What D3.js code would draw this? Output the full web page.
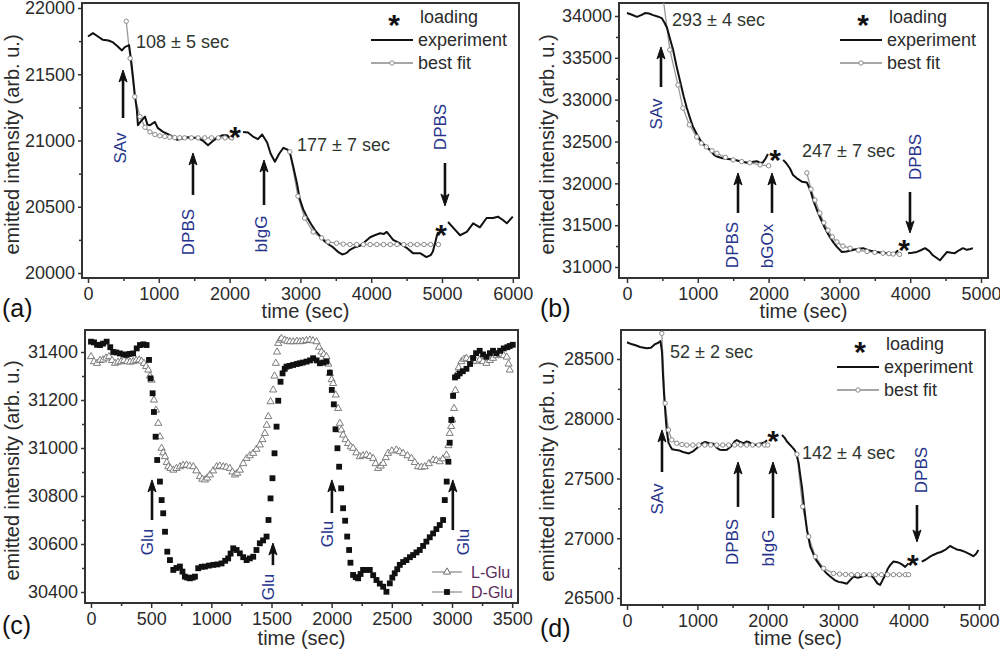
<!DOCTYPE html>
<html>
<head>
<meta charset="utf-8">
<script src="https://cdn.jsdelivr.net/npm/d3@7"></script>
<style>
  body { margin: 0; background: #fff; }
  svg { display: block; font-family: "Liberation Sans", Arial, sans-serif; }
</style>
</head>
<body>
<svg id="fig" width="1000" height="651"></svg>
<script>
// ---- panel (a): SAv then bIgG ----
const aExp1 = [[0,21785],[70,21810],[140,21785],[210,21760],[290,21755],[355,21740],[420,21710],[480,21680],[520,21705],[580,21720],[610,21600],[635,21480],[660,21350],[690,21230],[705,21115],[740,21140],[805,21180],[840,21120],[875,21115],[945,21140],[985,21095],[1060,21065],[1160,21040],[1260,21005],[1330,21015],[1400,21025],[1470,21020],[1540,21020],[1620,21000],[1695,20965],[1760,20995],[1825,21020],[1900,21040],[1965,21040],[2010,21015],[2050,21010]];
const aExp2 = [[2190,21065],[2260,21060],[2330,21030],[2400,21010],[2460,21045],[2530,20985],[2580,20900],[2640,20840],[2700,20900],[2760,20945],[2820,20930],[2860,20890],[2900,20800],[2950,20680],[2990,20560],[3040,20480],[3090,20425],[3150,20370],[3210,20320],[3275,20280],[3340,20240],[3400,20215],[3460,20195],[3530,20160],[3590,20140],[3650,20150],[3700,20175],[3770,20195],[3840,20205],[3900,20230],[3985,20270],[4050,20285],[4125,20300],[4180,20295],[4220,20310],[4310,20250],[4400,20225],[4500,20190],[4590,20150],[4690,20150],[4780,20120],[4840,20135],[4870,20160],[4900,20220],[4925,20275],[4945,20310]];
const aExp3 = [[5085,20385],[5160,20340],[5255,20285],[5350,20310],[5440,20375],[5535,20345],[5630,20415],[5720,20415],[5790,20425],[5860,20400],[5915,20375],[6000,20425]];
const aFit1 = [[540,21900],[595,21620],[660,21330],[735,21180],[805,21100],[875,21065],[945,21045],[1015,21035],[1085,21030],[1155,21025],[1225,21022],[1295,21021],[1365,21020],[1460,21020],[1555,21020],[1650,21020],[1745,21020],[1840,21020],[1935,21020],[2030,21020]];
const aFit2 = [[2850,20915],[2965,20580],[3060,20415],[3180,20310],[3300,20265],[3390,20235],[3510,20225],[3605,20218],[3700,20215],[3795,20215],[3890,20215],[3985,20215],[4080,20215],[4175,20215],[4270,20215],[4365,20215],[4460,20215],[4555,20215],[4650,20215],[4745,20215],[4840,20215],[4950,20215]];
const aXTicks = [0,1000,2000,3000,4000,5000,6000];
const aXMinor = [500,1500,2500,3500,4500,5500];
const aYTicks = [20000,20500,21000,21500,22000];
const aYMinor = [20250,20750,21250,21750];

// ---- panel (b): SAv then bGOx ----
const bExp1 = [[0,34035],[70,34015],[140,33990],[200,34010],[255,34035],[310,34030],[370,34010],[430,33995],[490,33975],[530,33920],[565,33860],[610,33720],[650,33600],[700,33400],[750,33220],[800,33040],[845,32900],[890,32780],[930,32680],[985,32590],[1040,32510],[1100,32450],[1170,32400],[1230,32340],[1270,32320],[1350,32300],[1420,32290],[1500,32285],[1600,32265],[1695,32245],[1760,32255],[1835,32265],[1880,32245],[1920,32250],[1960,32300],[1990,32350]];
const bExp2 = [[2205,32280],[2250,32240],[2300,32180],[2345,32100],[2400,32060],[2470,32020],[2540,32010],[2590,31920],[2630,31800],[2665,31720],[2700,31645],[2750,31550],[2795,31465],[2830,31410],[2865,31360],[2910,31300],[2965,31240],[3035,31180],[3100,31185],[3175,31200],[3250,31215],[3335,31225],[3400,31205],[3460,31190],[3530,31180],[3600,31170],[3670,31165],[3740,31165],[3785,31165],[3830,31200]];
const bExp3 = [[3970,31165],[4030,31170],[4095,31180],[4150,31200],[4210,31225],[4270,31190],[4320,31140],[4370,31110],[4420,31080],[4470,31130],[4520,31180],[4580,31170],[4630,31165],[4690,31200],[4745,31225],[4800,31205],[4850,31215],[4885,31225]];
const bFit1 = [[505,34250],[605,33595],[720,33175],[790,32900],[880,32700],[985,32555],[1050,32480],[1120,32435],[1200,32390],[1270,32360],[1390,32310],[1500,32280],[1620,32260],[1735,32245],[1880,32220],[2000,32210]];
const bFit2 = [[2540,32125],[2600,31930],[2655,31800],[2725,31645],[2780,31530],[2840,31440],[2900,31360],[2965,31300],[3050,31250],[3150,31225],[3270,31200],[3390,31185],[3500,31175],[3615,31165],[3700,31160],[3760,31155],[3850,31150]];
const bXTicks = [0,1000,2000,3000,4000,5000];
const bXMinor = [500,1500,2500,3500,4500];
const bYTicks = [31000,31500,32000,32500,33000,33500,34000];
const bYMinor = [31250,31750,32250,32750,33250,33750];

// ---- panel (c): L-Glu / D-Glu ----
const cLGlu = [[0,31381],[25,31360],[50,31353],[75,31365],[100,31367],[125,31375],[150,31381],[175,31365],[200,31353],[225,31358],[250,31360],[275,31365],[300,31360],[325,31358],[350,31360],[375,31365],[400,31367],[420,31362],[440,31353],[458,31340],[476,31325],[490,31300],[504,31283],[523,31200],[540,31158],[559,31103],[573,31047],[587,30999],[600,30980],[615,30964],[630,30940],[642,30922],[660,30915],[684,30908],[710,30915],[739,30922],[765,30928],[794,30929],[820,30925],[850,30922],[875,30905],[905,30881],[925,30870],[947,30867],[965,30875],[988,30888],[1015,30905],[1044,30922],[1070,30925],[1099,30922],[1125,30920],[1154,30915],[1175,30900],[1196,30888],[1215,30895],[1237,30908],[1265,30935],[1293,30957],[1320,30968],[1348,30978],[1375,30995],[1403,31013],[1425,31035],[1445,31061],[1460,31095],[1473,31131],[1492,31193],[1514,31242],[1525,31300],[1536,31353],[1546,31400],[1556,31436],[1570,31450],[1583,31457],[1610,31450],[1630,31445],[1653,31443],[1680,31443],[1710,31445],[1735,31443],[1760,31445],[1790,31448],[1819,31450],[1845,31447],[1874,31443],[1895,31420],[1915,31400],[1935,31390],[1957,31381],[1972,31350],[1985,31311],[2000,31285],[2012,31269],[2034,31221],[2054,31165],[2068,31103],[2080,31075],[2095,31054],[2115,31035],[2137,31019],[2158,31005],[2178,30999],[2205,30980],[2234,30964],[2260,30968],[2289,30971],[2318,30965],[2345,30957],[2365,30935],[2386,30915],[2408,30925],[2428,30936],[2450,30960],[2469,30978],[2500,30988],[2538,30992],[2565,30985],[2594,30978],[2630,30968],[2663,30957],[2690,30940],[2718,30922],[2745,30920],[2773,30922],[2808,30935],[2843,30950],[2870,30948],[2898,30943],[2925,30955],[2954,30971],[2970,31010],[2981,31061],[2993,31090],[3003,31117],[3017,31165],[3028,31240],[3036,31304],[3055,31335],[3078,31360],[3100,31370],[3120,31374],[3150,31368],[3175,31360],[3200,31362],[3230,31367],[3258,31360],[3286,31353],[3315,31365],[3341,31374],[3370,31385],[3400,31390],[3430,31385],[3455,31379],[3470,31350],[3480,31325]];
const cDGlu = [[0,31443],[25,31440],[50,31430],[75,31429],[100,31435],[130,31443],[160,31420],[185,31400],[210,31398],[240,31394],[270,31390],[296,31388],[320,31392],[350,31394],[380,31415],[407,31429],[435,31432],[462,31429],[482,31367],[495,31290],[512,31228],[523,31150],[537,31047],[550,30950],[573,30860],[587,30783],[600,30728],[615,30651],[634,30568],[656,30533],[684,30492],[710,30500],[739,30506],[760,30485],[780,30464],[800,30460],[822,30457],[845,30460],[864,30464],[891,30499],[920,30505],[947,30506],[980,30510],[1016,30513],[1050,30515],[1085,30519],[1115,30530],[1140,30540],[1160,30560],[1182,30582],[1210,30575],[1237,30561],[1265,30545],[1293,30533],[1320,30540],[1348,30547],[1375,30575],[1403,30603],[1430,30615],[1459,30631],[1475,30700],[1492,30790],[1508,30874],[1525,30978],[1542,31089],[1556,31197],[1575,31276],[1592,31311],[1610,31330],[1625,31339],[1650,31342],[1680,31346],[1710,31350],[1735,31353],[1760,31356],[1791,31360],[1820,31365],[1846,31374],[1875,31365],[1902,31353],[1930,31356],[1957,31360],[1985,31314],[2001,31242],[2018,31182],[2032,31078],[2048,30999],[2062,30922],[2079,30832],[2095,30749],[2112,30697],[2129,30631],[2145,30575],[2156,30522],[2178,30471],[2200,30462],[2220,30457],[2240,30475],[2261,30492],[2290,30492],[2317,30492],[2345,30470],[2372,30450],[2400,30435],[2428,30422],[2455,30401],[2483,30436],[2504,30460],[2524,30478],[2545,30495],[2566,30513],[2594,30525],[2621,30533],[2650,30545],[2677,30554],[2705,30565],[2732,30575],[2760,30592],[2787,30610],[2815,30628],[2843,30644],[2870,30662],[2898,30679],[2926,30700],[2940,30783],[2956,30860],[2970,30943],[2981,31022],[2995,31117],[3009,31217],[3025,31294],[3045,31300],[3064,31311],[3090,31320],[3120,31330],[3150,31350],[3175,31375],[3200,31395],[3230,31405],[3258,31390],[3286,31380],[3315,31395],[3341,31405],[3370,31395],[3400,31405],[3430,31415],[3460,31420],[3480,31425],[3505,31430]];
const cXTicks = [0,500,1000,1500,2000,2500,3000,3500];
const cXMinor = [250,750,1250,1750,2250,2750,3250];
const cYTicks = [30400,30600,30800,31000,31200,31400];
const cYMinor = [30500,30700,30900,31100,31300];

// ---- panel (d): SAv then bIgG ----
const dExp1 = [[0,28640],[60,28625],[120,28615],[187,28600],[240,28595],[282,28590],[340,28595],[400,28625],[440,28634],[475,28650],[497,28560],[511,28366],[527,28200],[540,28090],[556,27960],[568,27890],[589,27800],[611,27775],[640,27745],[682,27740],[740,27735],[795,27722],[880,27710],[944,27730],[994,27755],[1050,27790],[1108,27806],[1170,27795],[1230,27790],[1280,27755],[1320,27740],[1370,27738],[1420,27740],[1480,27770],[1530,27810],[1562,27822],[1610,27805],[1655,27795],[1700,27810],[1727,27806],[1770,27790],[1818,27780],[1870,27790],[1918,27795],[1960,27805],[1989,27820]];
const dExp2 = [[2201,27864],[2240,27840],[2272,27810],[2343,27765],[2380,27740],[2405,27710],[2438,27630],[2460,27530],[2485,27430],[2518,27250],[2556,27070],[2603,26930],[2640,26880],[2674,26830],[2720,26790],[2769,26750],[2830,26710],[2887,26680],[2950,26650],[3005,26635],[3060,26630],[3124,26620],[3170,26650],[3218,26680],[3280,26670],[3336,26680],[3400,26690],[3454,26690],[3500,26670],[3525,26650],[3560,26620],[3596,26610],[3630,26650],[3667,26690],[3700,26740],[3738,26775],[3785,26805],[3840,26800],[3880,26790],[3920,26775],[3951,26760],[3998,26790]];
const dExp3 = [[4187,26804],[4240,26820],[4305,26846],[4350,26860],[4400,26874],[4460,26885],[4518,26902],[4589,26935],[4640,26920],[4684,26906],[4740,26900],[4802,26886],[4860,26870],[4920,26850],[4960,26870],[4991,26902]];
const dFit1 = [[494,28715],[541,28130],[589,27906],[636,27823],[707,27795],[780,27785],[850,27780],[935,27780],[1020,27780],[1105,27780],[1190,27780],[1275,27780],[1360,27780],[1445,27780],[1530,27780],[1615,27780],[1700,27780],[1785,27780],[1870,27780],[1955,27780],[2000,27780]];
const dFit2 = [[2414,27703],[2494,27265],[2580,27014],[2674,26846],[2792,26748],[2934,26706],[3020,26700],[3105,26697],[3190,26695],[3275,26695],[3360,26695],[3445,26695],[3530,26695],[3615,26695],[3700,26695],[3785,26695],[3870,26695],[3955,26695],[4000,26695]];
const dXTicks = [0,1000,2000,3000,4000,5000];
const dXMinor = [500,1500,2500,3500,4500];
const dYTicks = [26500,27000,27500,28000,28500];
const dYMinor = [26750,27250,27750,28250];

const LABEL_COLOR = '#27348b';
const TEXT_COLOR = '#2b2b2b';

const svg = d3.select('#fig');

function drawPanel(p) {
  const g = svg.append('g');
  const f = p.frame;
  const x = p.x, y = p.y;

  svg.append('clipPath').attr('id', 'clip-' + p.name)
    .append('rect')
    .attr('x', f.l).attr('y', f.t)
    .attr('width', f.r - f.l).attr('height', f.b - f.t);

  const styleAxis = sel => {
    sel.select('.domain').remove();
    sel.attr('font-family', null).attr('font-size', 18);
    sel.selectAll('line').attr('stroke', '#333').attr('stroke-width', 1.5);
    sel.selectAll('text').attr('fill', TEXT_COLOR);
  };
  // minor ticks, then major ticks with labels
  g.append('g').attr('transform', `translate(0,${f.b})`)
    .call(d3.axisBottom(x).tickValues(p.xMinor).tickSize(3).tickFormat(''))
    .call(styleAxis);
  g.append('g').attr('transform', `translate(0,${f.b})`)
    .call(d3.axisBottom(x).tickValues(p.xTicks).tickSize(5).tickPadding(4).tickFormat(d3.format('d')))
    .call(styleAxis);
  g.append('g').attr('transform', `translate(${f.l},0)`)
    .call(d3.axisLeft(y).tickValues(p.yMinor).tickSize(3).tickFormat(''))
    .call(styleAxis);
  g.append('g').attr('transform', `translate(${f.l},0)`)
    .call(d3.axisLeft(y).tickValues(p.yTicks).tickSize(4).tickPadding(3).tickFormat(d3.format('d')))
    .call(styleAxis);

  // frame
  g.append('rect')
    .attr('x', f.l).attr('y', f.t)
    .attr('width', f.r - f.l).attr('height', f.b - f.t)
    .attr('fill', 'none').attr('stroke', '#333').attr('stroke-width', 2);

  // axis titles
  g.append('text')
    .attr('x', (f.l + f.r) / 2 + p.xTitleShift).attr('y', p.xTitleY)
    .attr('text-anchor', 'middle').attr('font-size', 20).attr('fill', TEXT_COLOR)
    .text('time (sec)');
  g.append('text')
    .attr('transform', `translate(${p.yTitleX},${(f.t + f.b) / 2 + 4}) rotate(-90)`)
    .attr('text-anchor', 'middle').attr('dy', '0.35em')
    .attr('font-size', 20).attr('fill', TEXT_COLOR)
    .text('emitted intensity (arb. u.)');

  // panel letter
  g.append('text')
    .attr('x', p.letterPos[0]).attr('y', p.letterPos[1])
    .attr('font-size', 25).attr('fill', '#111')
    .text(p.letter);

  return {g, clip: `url(#clip-${p.name})`};
}

function drawTrace(g, clip, x, y, exps, fits) {
  const line = d3.line().x(d => x(d[0])).y(d => y(d[1]));
  const plot = g.append('g').attr('clip-path', clip);
  fits.forEach(s => plot.append('path').datum(s).attr('d', line)
    .attr('fill', 'none').attr('stroke', '#9a9a9a').attr('stroke-width', 1.3));
  exps.forEach(s => plot.append('path').datum(s).attr('d', line)
    .attr('fill', 'none').attr('stroke', '#111').attr('stroke-width', 2)
    .attr('stroke-linejoin', 'round'));
  fits.forEach(s => plot.append('g').selectAll('circle').data(s).join('circle')
    .attr('cx', d => x(d[0])).attr('cy', d => y(d[1])).attr('r', 2.2)
    .attr('fill', '#fff').attr('stroke', '#8a8a8a').attr('stroke-width', 1));
}

function drawArrow(g, x, y, t, vTail, vHead) {
  const px = x(t), y0 = y(vTail), y1 = y(vHead);
  const dir = y1 < y0 ? -1 : 1;
  g.append('line')
    .attr('x1', px).attr('x2', px).attr('y1', y0).attr('y2', y1 - dir * 8)
    .attr('stroke', '#111').attr('stroke-width', 2.6);
  g.append('path')
    .attr('d', `M${px},${y1} L${px - 4},${y1 - dir * 12} L${px},${y1 - dir * 9} L${px + 4},${y1 - dir * 12} Z`)
    .attr('fill', '#111').attr('stroke', '#111').attr('stroke-width', 1);
}

function drawRotLabel(g, x, y, t, v, txt) {
  g.append('text')
    .attr('transform', `translate(${x(t)},${y(v)}) rotate(-90)`)
    .attr('text-anchor', 'middle').attr('dy', '0.35em')
    .attr('font-size', 17).attr('fill', LABEL_COLOR)
    .text(txt);
}

function drawStar(g, px, py) {
  g.append('text')
    .attr('x', px).attr('y', py).attr('dy', '0.56em')
    .attr('text-anchor', 'middle').attr('font-size', 30).attr('font-weight', 'bold')
    .attr('fill', '#111').text('*');
}

function drawNote(g, x, y, t, v, txt) {
  g.append('text')
    .attr('x', x(t)).attr('y', y(v))
    .attr('font-size', 18).attr('fill', '#2f362f')
    .text(txt);
}

function drawFitLegend(g, f) {
  const R = f.r, T = f.t;
  drawStar(g, R - 125, T + 15);
  g.append('text').attr('x', R - 99).attr('y', T + 20).attr('font-size', 18).attr('fill', TEXT_COLOR).text('loading');
  g.append('line').attr('x1', R - 148).attr('x2', R - 106).attr('y1', T + 37).attr('y2', T + 37)
    .attr('stroke', '#111').attr('stroke-width', 2);
  g.append('text').attr('x', R - 101).attr('y', T + 43).attr('font-size', 18).attr('fill', TEXT_COLOR).text('experiment');
  g.append('line').attr('x1', R - 148).attr('x2', R - 106).attr('y1', T + 60).attr('y2', T + 60)
    .attr('stroke', '#8a8a8a').attr('stroke-width', 1.5);
  g.append('circle').attr('cx', R - 127).attr('cy', T + 60).attr('r', 2.2)
    .attr('fill', '#fff').attr('stroke', '#8a8a8a');
  g.append('text').attr('x', R - 101).attr('y', T + 66).attr('font-size', 18).attr('fill', TEXT_COLOR).text('best fit');
}

// ---------- (a) ----------
{
  const x = d3.scaleLinear().domain([0, 5000]).range([88, 442]);
  const y = d3.scaleLinear().domain([20000, 22000]).range([273, 8]);
  const frame = {l: 82, r: 519, t: 3, b: 278};
  const {g, clip} = drawPanel({name: 'a', frame, x, y, xTicks: aXTicks, xMinor: aXMinor, yTicks: aYTicks, yMinor: aYMinor,
    xTitleY: 318, xTitleShift: 5, yTitleX: 12, letter: '(a)', letterPos: [2, 317]});
  drawTrace(g, clip, x, y, [aExp1, aExp2, aExp3], [aFit1, aFit2]);
  drawNote(g, x, y, 678, 21698, '108 \u00b1 5 sec');
  drawNote(g, x, y, 2952, 20921, '177 \u00b1 7 sec');
  drawArrow(g, x, y, 495, 21170, 21532);
  drawArrow(g, x, y, 1483, 20589, 20906);
  drawArrow(g, x, y, 2486, 20513, 20853);
  drawArrow(g, x, y, 5042, 20830, 20506);
  drawRotLabel(g, x, y, 452, 20943, 'SAv');
  drawRotLabel(g, x, y, 1412, 20309, 'DPBS');
  drawRotLabel(g, x, y, 2443, 20294, 'bIgG');
  drawRotLabel(g, x, y, 4972, 21102, 'DPBS');
  drawStar(g, x(2076), y(21079));
  drawStar(g, x(4986), y(20340));
  drawFitLegend(g, frame);
}

// ---------- (b) ----------
{
  const x = d3.scaleLinear().domain([0, 5000]).range([627, 981]);
  const y = d3.scaleLinear().domain([31000, 34000]).range([267, 16]);
  const frame = {l: 619, r: 988, t: 3, b: 278};
  const {g, clip} = drawPanel({name: 'b', frame, x, y, xTicks: bXTicks, xMinor: bXMinor, yTicks: bYTicks, yMinor: bYMinor,
    xTitleY: 318, xTitleShift: 0, yTitleX: 547, letter: '(b)', letterPos: [540, 317]});
  drawTrace(g, clip, x, y, [bExp1, bExp2, bExp3], [bFit1, bFit2]);
  drawNote(g, x, y, 636, 33880, '293 \u00b1 4 sec');
  drawNote(g, x, y, 2472, 32315, '247 \u00b1 7 sec');
  drawArrow(g, x, y, 480, 33151, 33630);
  drawArrow(g, x, y, 1568, 31646, 32124);
  drawArrow(g, x, y, 2048, 31646, 32124);
  drawArrow(g, x, y, 3997, 31897, 31407);
  drawRotLabel(g, x, y, 410, 32829, 'SAv');
  drawRotLabel(g, x, y, 1483, 31263, 'DPBS');
  drawRotLabel(g, x, y, 1977, 31251, 'bGOx');
  drawRotLabel(g, x, y, 4068, 32315, 'DPBS');
  drawStar(g, x(2090), y(32363));
  drawStar(g, x(3912), y(31287));
  drawFitLegend(g, frame);
}

// ---------- (c) ----------
{
  const x = d3.scaleLinear().domain([0, 3000]).range([91, 452]);
  const y = d3.scaleLinear().domain([30400, 31400]).range([592, 352]);
  const frame = {l: 85, r: 518, t: 330, b: 603};
  const {g, clip} = drawPanel({name: 'c', frame, x, y, xTicks: cXTicks, xMinor: cXMinor, yTicks: cYTicks, yMinor: cYMinor,
    xTitleY: 645, xTitleShift: 0, yTitleX: 12, letter: '(c)', letterPos: [2, 634]});
  const tri = d3.symbol(d3.symbolTriangle, 22);
  const sq = d3.symbol(d3.symbolSquare, 34);
  const plot = g.append('g').attr('clip-path', clip);
  plot.append('g').selectAll('path').data(cLGlu).join('path')
    .attr('d', tri).attr('transform', d => `translate(${x(d[0])},${y(d[1])})`)
    .attr('fill', '#fff').attr('stroke', '#6e6e6e').attr('stroke-width', 0.9);
  plot.append('g').selectAll('path').data(cDGlu).join('path')
    .attr('d', sq).attr('transform', d => `translate(${x(d[0])},${y(d[1])})`)
    .attr('fill', '#111');
  drawArrow(g, x, y, 507, 30700, 30867);
  drawArrow(g, x, y, 1512, 30512, 30604);
  drawArrow(g, x, y, 2002, 30729, 30867);
  drawArrow(g, x, y, 3007, 30658, 30867);
  drawRotLabel(g, x, y, 465, 30608, 'Glu');
  drawRotLabel(g, x, y, 1470, 30421, 'Glu');
  drawRotLabel(g, x, y, 1960, 30642, 'Glu');
  drawRotLabel(g, x, y, 3090, 30608, 'Glu');
  // legend
  const rows = [{label: 'L-Glu', sym: tri, fill: '#fff', dy: -31}, {label: 'D-Glu', sym: sq, fill: '#111', dy: -11}];
  rows.forEach(r => {
    const ly = frame.b + r.dy;
    g.append('line').attr('x1', frame.r - 86).attr('x2', frame.r - 56).attr('y1', ly).attr('y2', ly)
      .attr('stroke', '#8a8a8a').attr('stroke-width', 1.2);
    g.append('path').attr('d', r.sym).attr('transform', `translate(${frame.r - 71},${ly})`)
      .attr('fill', r.fill).attr('stroke', r.fill === '#fff' ? '#6e6e6e' : 'none');
    g.append('text').attr('x', frame.r - 47).attr('y', ly + 6).attr('font-size', 16)
      .attr('fill', '#5a2d5c').text(r.label);
  });
}

// ---------- (d) ----------
{
  const x = d3.scaleLinear().domain([0, 5000]).range([627, 979]);
  const y = d3.scaleLinear().domain([26500, 28500]).range([598, 359]);
  const frame = {l: 621, r: 985, t: 330, b: 605};
  const {g, clip} = drawPanel({name: 'd', frame, x, y, xTicks: dXTicks, xMinor: dXMinor, yTicks: dYTicks, yMinor: dYMinor,
    xTitleY: 645, xTitleShift: -5, yTitleX: 547, letter: '(d)', letterPos: [540, 637]});
  drawTrace(g, clip, x, y, [dExp1, dExp2, dExp3], [dFit1, dFit2]);
  drawNote(g, x, y, 611, 28508, '52 \u00b1 2 sec');
  drawNote(g, x, y, 2486, 27663, '142 \u00b1 4 sec');
  drawArrow(g, x, y, 497, 27554, 27906);
  drawArrow(g, x, y, 1577, 27262, 27638);
  drawArrow(g, x, y, 2074, 27169, 27638);
  drawArrow(g, x, y, 4119, 27278, 26969);
  drawRotLabel(g, x, y, 426, 27328, 'SAv');
  drawRotLabel(g, x, y, 1491, 26969, 'DPBS');
  drawRotLabel(g, x, y, 2003, 26918, 'bIgG');
  drawRotLabel(g, x, y, 4176, 27571, 'DPBS');
  drawStar(g, x(2074), y(27872));
  drawStar(g, x(4062), y(26835));
  drawFitLegend(g, frame);
}
</script>
</body>
</html>
